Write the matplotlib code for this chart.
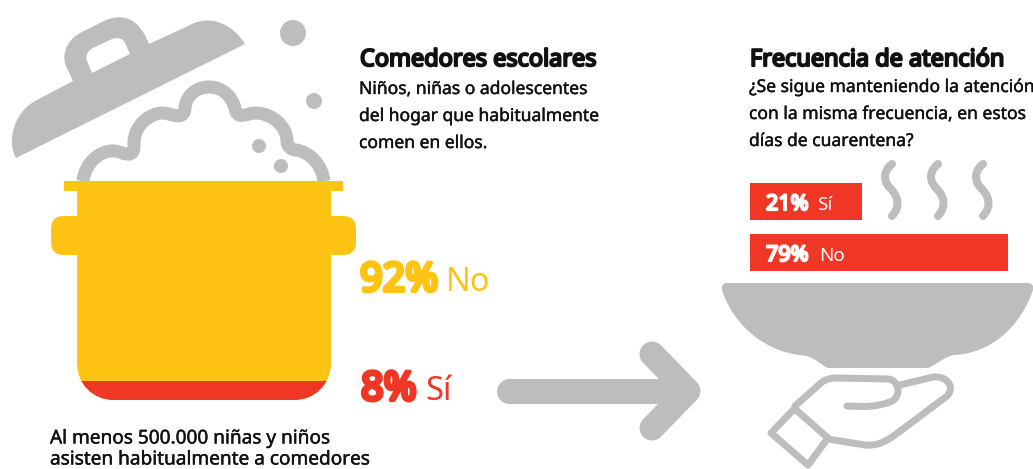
#!/usr/bin/env python3
import matplotlib
matplotlib.use('Agg')
import matplotlib.pyplot as plt
import matplotlib.patheffects as pe
from matplotlib.patches import Circle, FancyBboxPatch, PathPatch, Rectangle
from matplotlib.path import Path

# data
comedor_labels = ['No', 'Sí']
comedor_values = [92, 8]
frecuencia_labels = ['Sí', 'No']
frecuencia_values = [21, 79]

GRAY = '#BCBDBF'
YELLOW = '#FFC314'
RED = '#F03625'
BLACK = '#111111'

plt.rcParams['font.family'] = ['Noto Sans', 'DejaVu Sans']

fig = plt.figure(figsize=(10.33, 4.69), dpi=100)
ax = fig.add_axes([0, 0, 1, 1])
ax.set_xlim(0, 1033)
ax.set_ylim(469, 0)
ax.axis('off')


def curve(start, segs, close=False):
    # segs: line = 1 point, bezier = 3 points
    verts = [start]
    codes = [Path.MOVETO]
    for s in segs:
        if len(s) == 1:
            verts += s
            codes += [Path.LINETO]
        else:
            verts += s
            codes += [Path.CURVE4] * 3
    if close:
        verts.append(start)
        codes.append(Path.CLOSEPOLY)
    return verts, codes


def stroke(start, segs, lw_px, cap='round', join='round'):
    v, c = curve(start, segs)
    ax.add_patch(PathPatch(Path(v, c), fill=False, ec=GRAY, lw=lw_px * 0.72,
                           capstyle=cap, joinstyle=join))


def label(x, y, s, size, color, heavy=0.0):
    # no static bold of Noto Sans here, so thicken with a stroke
    t = ax.text(x, y, s, fontsize=size, color=color)
    if heavy:
        t.set_path_effects([pe.withStroke(linewidth=heavy, foreground=color)])
    return t


# lid
v1, c1 = curve((16, 158), [
    [(245, 44)],
    [(235, 27), (212, 12), (188, 26)],
    [(149, 44)],
    [(143, 28), (130, 9), (104, 21)],
    [(82, 32)],
    [(65, 40), (60, 58), (68, 70)],
    [(73, 81)],
    [(35, 101)],
    [(15, 112), (6, 140), (16, 158)],
], close=True)
v2, c2 = curve((92, 73), [
    [(87, 61)],
    [(85, 55), (88, 50), (95, 47)],
    [(110, 40)],
    [(116, 37), (122, 37), (125, 43)],
    [(130, 54)],
], close=True)
ax.add_patch(PathPatch(Path(v1 + v2, c1 + c2), fc=GRAY, ec='none'))

# foam
stroke((83, 181), [
    [(85, 163), (100, 150), (114, 151)],
    [(122, 151), (135, 162), (134, 143)],
    [(134, 125), (150, 113), (163, 113)],
    [(170, 113), (184, 122), (185, 108)],
    [(186, 95), (197, 87), (209, 87)],
    [(223, 87), (232, 97), (235, 108)],
    [(237, 121), (247, 113), (255, 113)],
    [(273, 113), (287, 127), (287, 141)],
    [(287, 146), (291, 150), (296, 150)],
    [(310, 152), (322, 165), (324, 181)],
], 13, cap='butt')

# bubbles
for x, y, r in [(293, 33, 13), (314, 101, 8), (259, 146, 7), (281, 166, 7)]:
    ax.add_patch(Circle((x, y), r, fc=GRAY, ec='none'))

# pot
ax.add_patch(FancyBboxPatch((51, 216), 305, 39, boxstyle='round,pad=0,rounding_size=13',
                            fc=YELLOW, ec='none'))
ax.add_patch(Rectangle((64, 181), 279, 10, fc=YELLOW, ec='none'))
v, c = curve((77, 181), [
    [(331, 181)],
    [(331, 363)],
    [(331, 384), (315, 400), (294, 400)],
    [(114, 400)],
    [(93, 400), (77, 384), (77, 363)],
], close=True)
body = PathPatch(Path(v, c), fc=YELLOW, ec='none')
ax.add_patch(body)
pot_bottom = 400
pot_scale = 2.4  # px per percentage point
red_fill = ax.bar(204, comedor_values[1] * pot_scale, width=254, bottom=pot_bottom - comedor_values[1] * pot_scale,
                  color=RED, ec='none')[0]
red_fill.set_clip_path(body)
ax.set_xlim(0, 1033)
ax.set_ylim(469, 0)

# arrow
stroke((509, 391), [[(685, 391)]], 25, cap='round')
stroke((652, 354), [[(688, 391)], [(652, 428)]], 25, cap='round', join='round')

# bars
bar_left = 750
bar_px = 2.517
bar_pad = 59
bar_y = [201.5, 252.5]
ax.barh(bar_y, [bar_pad + bar_px * v for v in frecuencia_values], height=37, left=bar_left,
        color=RED, ec='none')

# steam
for dx in [0, 46, 91]:
    stroke((892 + dx, 164), [
        [(882 + dx, 172), (884 + dx, 182), (890 + dx, 188)],
        [(898 + dx, 196), (901 + dx, 206), (892 + dx, 216)],
    ], 8)

# bowl
v, c = curve((727, 283), [
    [(1028, 283)],
    [(1032, 283), (1034, 286), (1033, 290)],
    [(1020, 328), (990, 353), (955, 355)],
    [(945, 356), (936, 365), (928, 368)],
    [(828, 368)],
    [(820, 365), (815, 356), (800, 355)],
    [(770, 352), (735, 330), (722, 290)],
    [(721, 286), (723, 283), (727, 283)],
], close=True)
ax.add_patch(PathPatch(Path(v, c), fc=GRAY, ec='none'))

# hand
stroke((795, 406), [
    [(822, 382)],
    [(826, 379), (832, 378), (837, 378)],
    [(888, 379)],
    [(900, 380), (902, 398), (890, 402)],
    [(875, 407), (867, 407), (847, 406)],
], 7)
stroke((900, 385), [
    [(933, 377)],
    [(948, 375), (958, 390), (943, 399)],
    [(895, 435)],
    [(885, 442), (877, 446), (865, 445)],
    [(828, 439)],
], 7)
stroke((795, 409), [[(828, 438)], [(808, 465)], [(771, 433)], [(795, 408)]], 7)

# text
label(360, 66, 'Comedores escolares', 16.9, BLACK, heavy=1.5)
for i, line in enumerate(['Niños, niñas o adolescentes', 'del hogar que habitualmente', 'comen en ellos.']):
    label(359, 94 + i * 27, line, 12.6, BLACK, heavy=0.3)

label(750, 66, 'Frecuencia de atención', 16.9, BLACK, heavy=1.5)
for i, line in enumerate(['¿Se sigue manteniendo la atención', 'con la misma frecuencia, en estos', 'días de cuarentena?']):
    label(749, 92 + i * 27, line, 12.6, BLACK, heavy=0.3)

label(360, 291, f'{comedor_values[0]}%', 28.5, YELLOW, heavy=3)
label(446, 291, comedor_labels[0], 23.5, YELLOW)
label(361, 400, f'{comedor_values[1]}%', 28.5, RED, heavy=3)
label(425, 400, comedor_labels[1], 23.5, RED)

label(766, 210, f'{frecuencia_values[0]}%', 15.5, 'white', heavy=1.6)
label(817, 210, frecuencia_labels[0], 13.5, 'white')
label(766, 261, f'{frecuencia_values[1]}%', 15.5, 'white', heavy=1.6)
label(819, 261, frecuencia_labels[1], 13.5, 'white')

label(50, 443.5, 'Al menos 500.000 niñas y niños', 13.7, BLACK, heavy=0.3)
label(50, 464.5, 'asisten habitualmente a comedores', 13.7, BLACK, heavy=0.3)

fig.savefig('out.png', dpi=100)
